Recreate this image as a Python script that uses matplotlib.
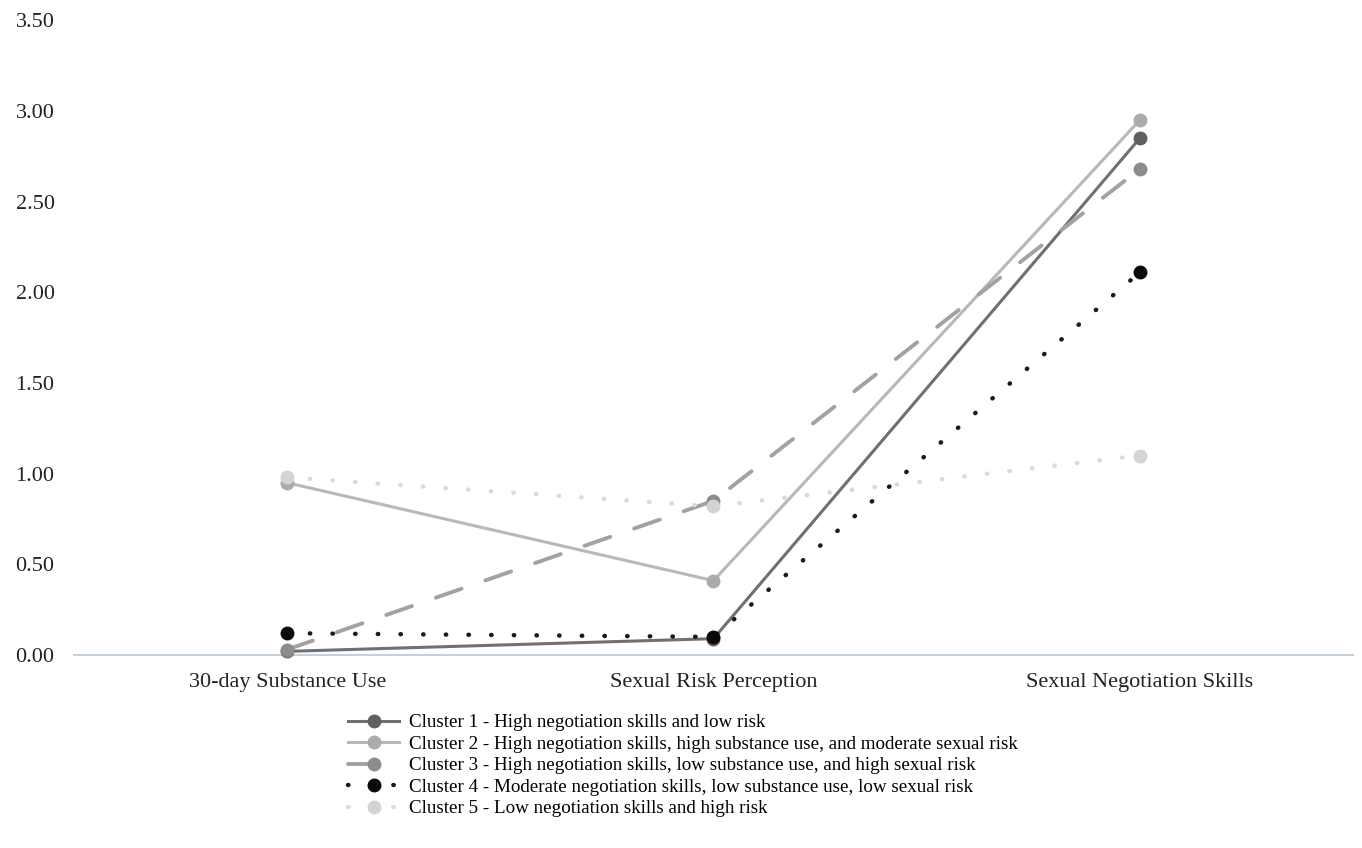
import matplotlib

matplotlib.use("Agg")
import matplotlib.pyplot as plt

plt.rcParams["font.family"] = ["Liberation Serif", "DejaVu Serif"]

categories = ["30-day Substance Use", "Sexual Risk Perception", "Sexual Negotiation Skills"]
labels = [
    "Cluster 1 - High negotiation skills and low risk",
    "Cluster 2 - High negotiation skills, high substance use, and moderate sexual risk",
    "Cluster 3 - High negotiation skills, low substance use, and high sexual risk",
    "Cluster 4 - Moderate negotiation skills, low substance use, low sexual risk",
    "Cluster 5 - Low negotiation skills and high risk",
]
cluster1 = [0.02, 0.09, 2.85]
cluster2 = [0.95, 0.41, 2.95]
cluster3 = [0.03, 0.85, 2.68]
cluster4 = [0.12, 0.10, 2.11]
cluster5 = [0.98, 0.82, 1.10]
yticks = [0.0, 0.5, 1.0, 1.5, 2.0, 2.5, 3.0, 3.5]

styles = [
    dict(color="#707070", mfc="#606060", lw=2.2, dashes=None),
    dict(color="#b8b8b8", mfc="#ababab", lw=2.2, dashes=None),
    dict(color="#a2a2a2", mfc="#8c8c8c", lw=2.8, dashes=(7, 6.5)),
    dict(color="#1a1a1a", mfc="#0a0a0a", lw=3.2, dashes=(0.1, 5)),
    dict(color="#dadada", mfc="#d4d4d4", lw=3.2, dashes=(0.1, 5)),
]

fig = plt.figure(figsize=(13.62, 8.48), dpi=100)
ax = fig.add_axes([0.0543, 0.2276, 0.9391, 0.7484])
x = list(range(len(categories)))

series = [cluster1, cluster2, cluster3, cluster4, cluster5]
# lightest first so the darker lines stay on top
for idx in [4, 1, 2, 3, 0]:
    st = styles[idx]
    kw = dict(color=st["color"], lw=st["lw"], marker="o", markersize=9,
              markerfacecolor=st["mfc"], markeredgecolor=st["mfc"],
              label=labels[idx], clip_on=False, zorder=3 + idx * 0.1)
    if st["dashes"] is not None:
        kw["dashes"] = st["dashes"]
        kw["dash_capstyle"] = "round"
    ax.plot(x, series[idx], **kw)

ax.set_xlim(-0.5, 2.5)
ax.set_ylim(0, 3.5)
ax.set_yticks(yticks)
ax.set_yticklabels([f"{v:.2f}" for v in yticks])
ax.set_xticks(x)
ax.set_xticklabels(categories)
ax.tick_params(axis="both", length=0, labelsize=16, colors="#222222")
ax.tick_params(axis="y", pad=14)
ax.tick_params(axis="x", pad=13)
for side in ["left", "right", "top"]:
    ax.spines[side].set_visible(False)
ax.spines["bottom"].set_color("#c3d1de")
ax.spines["bottom"].set_linewidth(1.5)

handles, lbls = ax.get_legend_handles_labels()
order = [lbls.index(l) for l in labels]
ax.legend([handles[i] for i in order], [lbls[i] for i in order],
          loc="upper left", bbox_to_anchor=(348 / 1362, 1 - 714 / 848),
          bbox_transform=fig.transFigure, frameon=False, fontsize=13.7,
          handlelength=2.7, handletextpad=0.5, labelspacing=0.22,
          borderaxespad=0, borderpad=0)

fig.savefig("out.png", dpi=100)
